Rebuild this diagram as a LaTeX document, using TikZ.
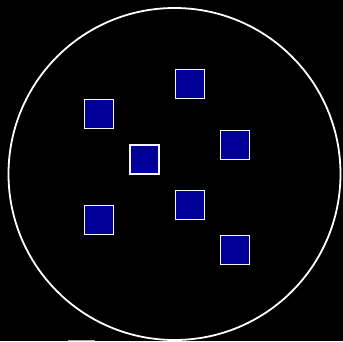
\documentclass[tikz,border=0pt]{standalone}
\begin{document}
\begin{tikzpicture}[x=1pt,y=-1pt,
  cell/.style={draw=white!92!gray, line width=1.8pt, fill={rgb,255:red,0;green,0;blue,153}, minimum size=29pt, inner sep=0pt, outer sep=0pt}]
\fill[black] (0,0) rectangle (343,341);
\useasboundingbox (0,0) rectangle (343,341);
\draw[white, line width=1.8pt] (174.5,174) circle[radius=166];
\node[cell] (s1) at (190,84) {};
\node[cell] (s2) at (99,114) {};
\node[cell] (s3) at (235,145) {};
\node[cell] (s4) at (144.5,159.5) {};
\node[cell] (s5) at (190,205) {};
\node[cell] (s6) at (99,220) {};
\node[cell] (s7) at (235,250) {};
\coordinate (g1) at (68,340.5);
\coordinate (g2) at (95,340.5);
\draw[gray!70, line width=1.5pt] (g1) -- (g2);
\end{tikzpicture}
\end{document}
